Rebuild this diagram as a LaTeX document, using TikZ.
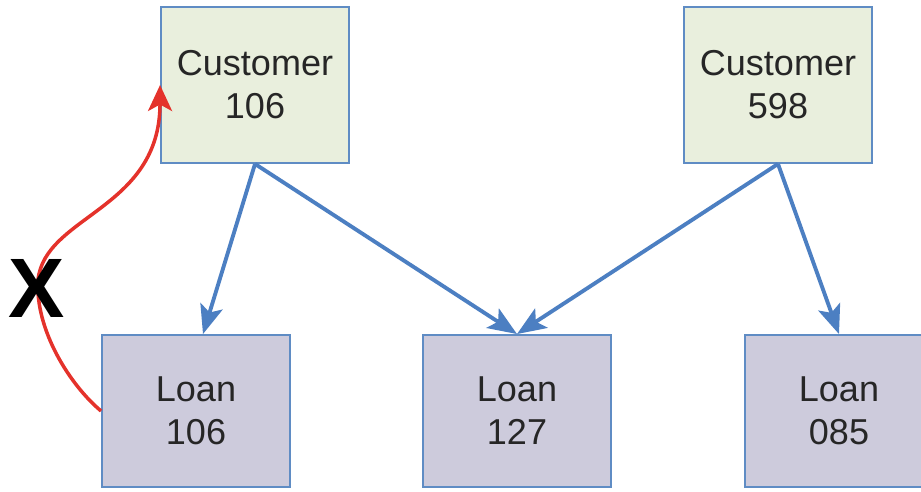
\documentclass[tikz,border=0pt]{standalone}
\usepackage{fontspec}
\setmainfont{Liberation Sans}
\usepackage{xcolor}
\usetikzlibrary{arrows.meta}

\definecolor{custfill}{HTML}{E9EFDD}
\definecolor{loanfill}{HTML}{CDCBDC}
\definecolor{boxline}{HTML}{5F8CC4}
\definecolor{linkblue}{HTML}{4C7FC2}
\definecolor{badred}{HTML}{E4322B}

\begin{document}
\begin{tikzpicture}[x=0.02cm, y=-0.02cm,
  box/.style={draw=boxline, line width=1.1pt, minimum width=3.76cm,
    align=center, text=black!85, font=\fontsize{20.5}{24.5}\selectfont},
  cust/.style={box, fill=custfill, minimum height=3.12cm},
  loan/.style={box, fill=loanfill, minimum height=3.04cm},
  arr/.style={-{Stealth[length=5.8mm, width=4.6mm, inset=1.3mm]}, linkblue, line width=2.2pt},
  redarr/.style={-{Stealth[length=5.2mm, width=4.8mm, inset=1.3mm]}, badred, line width=2pt},
]
\clip (0,0) rectangle (921,492);

% Row 1: customers
\node (c106) [cust] at (255,85) {Customer\\106};
\node (c598) [cust] at (778,85) {Customer\\598};

% Row 2: loans
\node (l106) [loan] at (196,411) {Loan\\106};
\node (l127) [loan] at (517,411) {Loan\\127};
\node (l085) [loan] at (839,411) {Loan\\085};

\draw[arr] (c106.south) -- ([xshift=0.14cm]l106.north);
\draw[arr] (c106.south) -- (l127.north);
\draw[arr] (c598.south) -- (l127.north);
\draw[arr] (c598.south) -- (l085.north);

% crossed-out link back to the customer
\coordinate (cross) at (38,280);
\draw[redarr] (l106.west) .. controls (70,385) and (35,330) .. (cross)
  .. controls (45,215) and (160,210) .. (c106.west);
\node (x) [font=\fontsize{48}{48}\selectfont\bfseries, text=black, inner sep=0pt]
  at (37,288) {X};

\end{tikzpicture}
\end{document}
